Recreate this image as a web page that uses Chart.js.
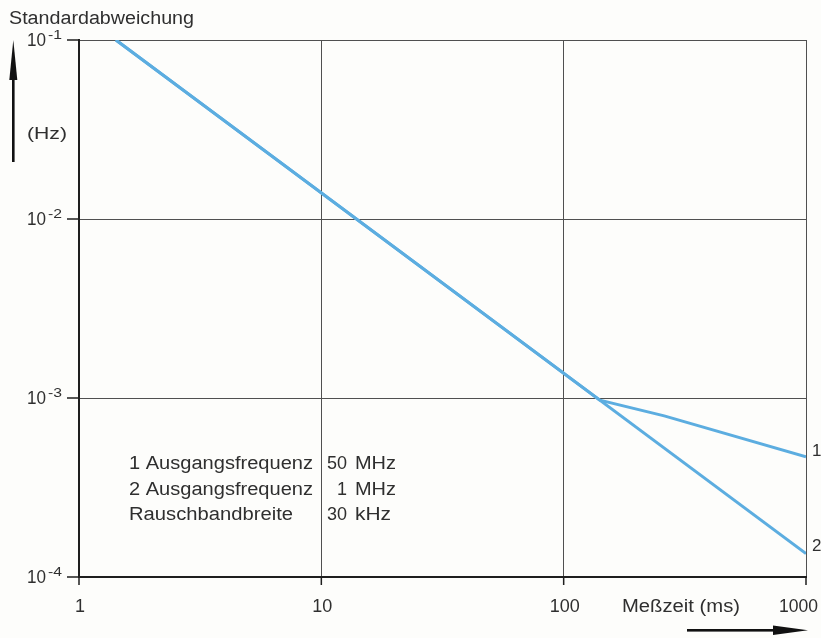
<!DOCTYPE html>
<html>
<head>
<meta charset="utf-8">
<script src="https://cdn.jsdelivr.net/npm/chart.js@4/dist/chart.umd.min.js"></script>
<style>
  body { margin: 0; background: #fdfdfb; }
  canvas { display: block; }
</style>
</head>
<body>
<canvas id="chart" width="821" height="638"></canvas>
<script>
// Meßzeit (ms) / Standardabweichung (Hz)
const times2 = [1.42, 1000];
const deviation2 = [0.1, 1.35e-4];
const times1 = [1.42, 141, 260, 1000];
const deviation1 = [0.1, 9.72e-4, 7.95e-4, 4.7e-4];

const xTicks = [1, 10, 100, 1000];
const xTickLabels = ['1', '10', '100', '1000'];
const yExponents = [-1, -2, -3, -4];

const legendRows = [
  ['1 Ausgangsfrequenz', '50', 'MHz'],
  ['2 Ausgangsfrequenz', '1', 'MHz'],
  ['Rauschbandbreite', '30', 'kHz']
];

const lineColor = '#5cade0';
const inkColor = '#2f2f2f';
const fontName = '"Liberation Sans", Arial, sans-serif';

function toPoints(xs, ys) {
  return xs.map((x, i) => ({ x: x, y: ys[i] }));
}

// draw text squeezed/stretched to a given width
function fitText(ctx, str, x, y, size, width, align) {
  ctx.font = size + 'px ' + fontName;
  const w = ctx.measureText(str).width;
  const target = width || w;
  let left = x;
  if (align === 'right') left = x - target;
  if (align === 'center') left = x - target / 2;
  ctx.save();
  ctx.translate(left, y);
  ctx.scale(target / w, 1);
  ctx.textAlign = 'left';
  ctx.textBaseline = 'alphabetic';
  ctx.fillText(str, 0, 0);
  ctx.restore();
}

const decorPlugin = {
  id: 'decor',
  afterDraw(chart) {
    const ctx = chart.ctx;
    const xs = chart.scales.x;
    const ys = chart.scales.y;
    const area = chart.chartArea;
    ctx.save();
    ctx.fillStyle = inkColor;
    ctx.strokeStyle = '#1e1e1e';
    ctx.lineWidth = 1.5;

    // tick marks outside the plot
    yExponents.forEach(e => {
      const py = ys.getPixelForValue(Math.pow(10, e));
      ctx.beginPath();
      ctx.moveTo(area.left - 12, py);
      ctx.lineTo(area.left, py);
      ctx.stroke();
    });
    xTicks.forEach(v => {
      const px = xs.getPixelForValue(v);
      ctx.beginPath();
      ctx.moveTo(px, area.bottom);
      ctx.lineTo(px, area.bottom + 8);
      ctx.stroke();
    });

    // y tick labels 10^e
    yExponents.forEach(e => {
      const py = ys.getPixelForValue(Math.pow(10, e));
      fitText(ctx, '10', 46, py + 6, 18, 19, 'right');
      fitText(ctx, String(e), 48, py - 1, 13, 14, 'left');
    });

    // x tick labels
    xTicks.forEach((v, i) => {
      const px = xs.getPixelForValue(v);
      if (i === xTicks.length - 1) {
        fitText(ctx, xTickLabels[i], 818, 612, 18, 39, 'right');
      } else {
        fitText(ctx, xTickLabels[i], px + 1, 612, 18, null, 'center');
      }
    });

    // axis titles
    fitText(ctx, 'Standardabweichung', 9, 24, 18, 185, 'left');
    fitText(ctx, '(Hz)', 27, 139, 17, 40, 'left');
    fitText(ctx, 'Meßzeit (ms)', 622, 612, 18, 118, 'left');

    // up arrow
    ctx.fillStyle = '#111';
    ctx.fillRect(12, 72, 2.6, 90);
    ctx.beginPath();
    ctx.moveTo(13.3, 40);
    ctx.lineTo(17.3, 80);
    ctx.lineTo(9.3, 80);
    ctx.closePath();
    ctx.fill();

    // right arrow
    ctx.fillRect(687, 629, 90, 2.6);
    ctx.beginPath();
    ctx.moveTo(808, 630.3);
    ctx.lineTo(773, 625.5);
    ctx.lineTo(773, 635);
    ctx.closePath();
    ctx.fill();

    // curve numbers
    ctx.fillStyle = inkColor;
    fitText(ctx, '1', 812, 456, 17, null, 'left');
    fitText(ctx, '2', 812, 551, 17, null, 'left');

    // parameter block
    const baselines = [469, 495, 520];
    const labelWidths = [184, 184, 164];
    legendRows.forEach((row, i) => {
      fitText(ctx, row[0], 129, baselines[i], 18, labelWidths[i], 'left');
      fitText(ctx, row[1], 347, baselines[i], 18, null, 'right');
      fitText(ctx, row[2], 355, baselines[i], 18, row[2] === 'MHz' ? 41 : 36, 'left');
    });
    ctx.restore();
  }
};

new Chart(document.getElementById('chart').getContext('2d'), {
  type: 'scatter',
  data: {
    datasets: [
      {
        data: toPoints(times2, deviation2),
        showLine: true,
        borderColor: lineColor,
        borderWidth: 3,
        pointRadius: 0,
        tension: 0
      },
      {
        data: toPoints(times1, deviation1),
        showLine: true,
        borderColor: lineColor,
        borderWidth: 3,
        pointRadius: 0,
        tension: 0
      }
    ]
  },
  options: {
    responsive: false,
    animation: false,
    layout: { padding: { left: 79, right: 15, top: 40, bottom: 61 } },
    plugins: { legend: { display: false }, tooltip: { enabled: false } },
    scales: {
      x: {
        type: 'logarithmic',
        min: 1,
        max: 1000,
        afterBuildTicks: s => { s.ticks = xTicks.map(v => ({ value: v })); },
        afterFit: s => { s.height = 0; },
        ticks: { display: false },
        grid: { color: '#505050', lineWidth: 1, drawTicks: false },
        border: { display: true, color: '#1e1e1e', width: 2 }
      },
      y: {
        type: 'logarithmic',
        min: 1e-4,
        max: 0.1,
        afterBuildTicks: s => { s.ticks = yExponents.map(e => ({ value: Math.pow(10, e) })); },
        afterFit: s => { s.width = 0; },
        ticks: { display: false },
        grid: { color: '#505050', lineWidth: 1, drawTicks: false },
        border: { display: true, color: '#1e1e1e', width: 2 }
      }
    }
  },
  plugins: [decorPlugin]
});
</script>
</body>
</html>
